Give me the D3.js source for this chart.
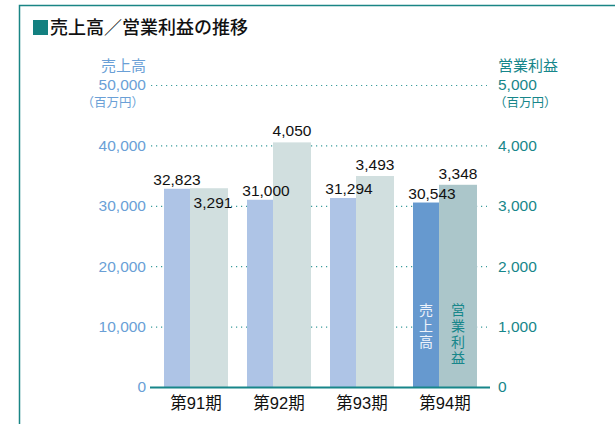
<!DOCTYPE html>
<html>
<head>
<meta charset="utf-8">
<script src="https://cdn.jsdelivr.net/npm/d3@7"></script>
<style>
  body { margin: 0; background: #fff; }
  svg text { font-family: "Liberation Sans", Arial, "Noto Sans CJK JP", sans-serif; }
  .jp { font-family: "Noto Sans CJK JP", sans-serif; }
</style>
</head>
<body>
<div id="chart"></div>
<script>
// data
var periods = ["第91期", "第92期", "第93期", "第94期"];
var sales = [32823, 31000, 31294, 30543];      // 売上高（百万円）
var profit = [3291, 4050, 3493, 3348];         // 営業利益（百万円）
var salesTicks = [0, 10000, 20000, 30000, 40000, 50000];
var profitTicks = [0, 1000, 2000, 3000, 4000, 5000];

var W = 615, H = 424;
var teal = "#17868a";

var svg = d3.select("#chart")
  .append("svg")
    .attr("width", W)
    .attr("height", H);

// frame
svg.append("path")
  .attr("d", "M19.5," + H + "V5.5H" + W)
  .attr("fill", "none")
  .attr("stroke", "#1a8585")
  .attr("stroke-width", 1.5);

// title
svg.append("rect")
  .attr("x", 33).attr("y", 20).attr("width", 15).attr("height", 15)
  .attr("fill", "#138080");
svg.append("text")
  .attr("class", "jp")
  .attr("x", 50).attr("y", 34)
  .attr("font-size", 18)
  .attr("font-weight", 500)
  .attr("fill", "#111")
  .text("売上高／営業利益の推移");

/*
 * scales
 */
var x = d3.scaleBand()
  .domain(periods)
  .range([154.5, 486.5])
  .paddingInner(19 / 83)
  .paddingOuter(19 / 166);

var yL = d3.scaleLinear().domain([0, 50000]).range([387, 85]);
var yR = d3.scaleLinear().domain([0, 5000]).range([387, 85]);

var bw = x.bandwidth();
var sw = bw * 26 / 64, pw = bw * 38 / 64;

// grid (dotted)
svg.append("g")
  .selectAll("line")
  .data(salesTicks.slice(1))
  .enter()
  .append("line")
    .attr("x1", 151).attr("x2", 487)
    .attr("y1", d => yL(d) + 0.5).attr("y2", d => yL(d) + 0.5)
    .attr("stroke", "#3b9c9c")
    .attr("stroke-width", 1.2)
    .attr("stroke-dasharray", "1.2,3.8");

/*
 * bars
 */
var rows = periods.map((p, i) => ({p: p, s: sales[i], o: profit[i], last: i == periods.length - 1}));

svg.append("g").selectAll("rect")
  .data(rows).enter()
  .append("rect")
    .attr("x", d => x(d.p))
    .attr("width", sw)
    .attr("y", d => yL(d.s))
    .attr("height", d => yL(0) - yL(d.s))
    .attr("fill", d => d.last ? "#6699cf" : "#aec4e6");

svg.append("g").selectAll("rect")
  .data(rows).enter()
  .append("rect")
    .attr("x", d => x(d.p) + sw)
    .attr("width", pw)
    .attr("y", d => yR(d.o))
    .attr("height", d => yR(0) - yR(d.o))
    .attr("fill", d => d.last ? "#abc6ca" : "#d1dfdf");

// baseline
svg.append("line")
  .attr("x1", 150).attr("x2", 490)
  .attr("y1", 387.5).attr("y2", 387.5)
  .attr("stroke", teal)
  .attr("stroke-width", 2);

// value labels
var fmt = d3.format(",");
var salesShift = [0, 6, 6, 6];
svg.append("g").selectAll("text")
  .data(rows).enter()
  .append("text")
    .attr("x", (d, i) => x(d.p) + sw / 2 + salesShift[i])
    .attr("y", d => yL(d.s) - 4)
    .attr("text-anchor", "middle")
    .attr("font-size", 15.5)
    .attr("fill", "#111")
    .text(d => fmt(d.s));

svg.append("g").selectAll("text")
  .data(rows).enter()
  .append("text")
    .attr("x", (d, i) => x(d.p) + sw + pw / 2 + (i == 0 ? 4 : 0))
    .attr("y", (d, i) => i == 0 ? yR(d.o) + 20 : yR(d.o) - 6)
    .attr("text-anchor", "middle")
    .attr("font-size", 15.5)
    .attr("fill", "#111")
    .text(d => fmt(d.o));

/*
 * axes
 */
var axL = svg.append("g")
  .attr("transform", "translate(146,0)")
  .call(d3.axisLeft(yL).tickValues(salesTicks).tickSize(0).tickPadding(0).tickFormat(fmt));
axL.select(".domain").remove();
axL.selectAll("text")
  .attr("font-size", 15.5)
  .attr("fill", "#6a9fd6")
  .attr("font-family", "Liberation Sans, Arial, sans-serif");

var axR = svg.append("g")
  .attr("transform", "translate(498,0)")
  .call(d3.axisRight(yR).tickValues(profitTicks).tickSize(0).tickPadding(0).tickFormat(fmt));
axR.select(".domain").remove();
axR.selectAll("text")
  .attr("font-size", 15.5)
  .attr("fill", teal)
  .attr("font-family", "Liberation Sans, Arial, sans-serif");

var axB = svg.append("g")
  .attr("transform", "translate(0,387)")
  .call(d3.axisBottom(x).tickSize(0).tickPadding(10));
axB.select(".domain").remove();
axB.selectAll("text")
  .attr("font-size", 16.5)
  .attr("fill", "#111")
  .attr("font-family", "Liberation Sans, Arial, Noto Sans CJK JP, sans-serif");

// axis titles
svg.append("text").attr("class", "jp")
  .attr("x", 146).attr("y", 71).attr("text-anchor", "end")
  .attr("font-size", 15).attr("fill", "#6a9fd6").text("売上高");
svg.append("text").attr("class", "jp")
  .attr("x", 144).attr("y", 107).attr("text-anchor", "end")
  .attr("font-size", 12.5).attr("fill", "#6a9fd6").text("（百万円）");
svg.append("text").attr("class", "jp")
  .attr("x", 498).attr("y", 71)
  .attr("font-size", 15).attr("fill", teal).text("営業利益");
svg.append("text").attr("class", "jp")
  .attr("x", 494).attr("y", 107)
  .attr("font-size", 12.5).attr("fill", teal).text("（百万円）");

// vertical legend inside the last bars
var lastP = periods[periods.length - 1];
function vtext(str, cx, y0, color) {
  svg.append("text")
    .attr("class", "jp")
    .attr("x", cx)
    .attr("y", y0)
    .style("writing-mode", "vertical-rl")
    .attr("letter-spacing", 2)
    .attr("font-size", 14)
    .attr("fill", color)
    .text(str);
}
vtext("売上高", x(lastP) + sw / 2, 303, "#eef3fb");
vtext("営業利益", x(lastP) + sw + pw / 2, 303, teal);
</script>
</body>
</html>
